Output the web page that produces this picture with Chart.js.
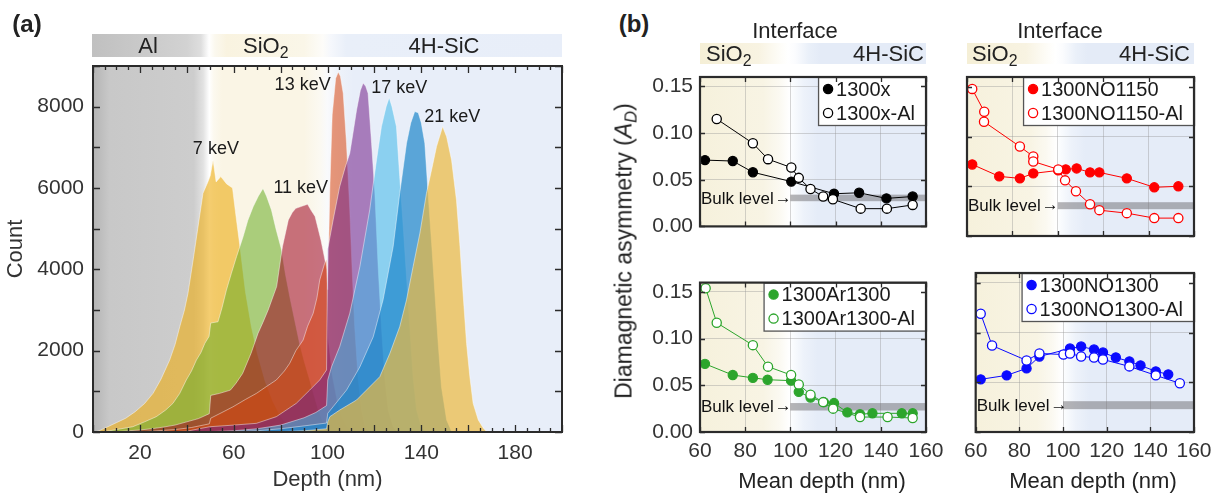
<!DOCTYPE html>
<html><head><meta charset="utf-8">
<script src="https://cdn.jsdelivr.net/npm/chart.js@4/dist/chart.umd.min.js"></script>
<style>
html,body{margin:0;padding:0;background:#fff;width:1225px;height:493px;overflow:hidden;}
#wrap{position:relative;width:1225px;height:493px;font-family:"Liberation Sans",Arial,Helvetica,sans-serif;color:#222;}
canvas{position:absolute;}
.t{position:absolute;white-space:nowrap;line-height:1;}
sub{font-size:0.72em;vertical-align:-0.32em;line-height:0;}
#frameA{position:absolute;box-sizing:border-box;border:2.5px solid #2b2b2b;pointer-events:none;z-index:5;}
</style></head><body><div id="wrap">
<canvas id="ca" width="600" height="493" style="left:0px;top:0px"></canvas>
<canvas id="caf" width="600" height="493" style="left:0px;top:0px;z-index:4"></canvas>
<div id="frameA" style="left:92px;top:65px;width:472px;height:369px"></div>
<canvas id="c1" width="313" height="206" style="left:638px;top:40px"></canvas>
<canvas id="c2" width="262" height="206" style="left:957px;top:40px"></canvas>
<canvas id="c3" width="313" height="230" style="left:638px;top:263px"></canvas>
<canvas id="c4" width="262" height="230" style="left:957px;top:263px"></canvas>
</div>
<script>
// ---------------- DATA: panel (a) implantation profiles ----------------
const energies = [7, 9, 11, 13, 15, 17, 19, 21];
const depth7  = [1,3,6,10,14,18,22,25.6,29,32.7,35,37,39,40.5,42.7,44.8,46.9,49,50,51.2,52.5,54.5,57,59.5,61,62.8,65,67.5,70,73.4,76.7,80,83.3,86.5,88];
const count7  = [0,40,120,230,340,500,700,950,1300,1770,2150,2590,3000,3410,4230,5050,5870,6150,6300,6690,6150,6280,6100,6000,5300,4500,3450,2600,1950,1250,750,380,130,20,0];
const depth9  = [4,10,17,22,27,31,34.1,37,39.8,42,44.1,46,47.7,49.5,50.2,53.3,55,56.9,59,61.2,64,66,68.3,70.5,72.5,74,76.1,78,80.4,82,84,86,88,90,92.4,94,96,98,100,102];
const count9  = [0,60,130,250,377,540,705,950,1280,1500,1770,1950,2180,2350,2680,2710,3050,3490,3900,4310,4800,5200,5540,5800,5990,5800,5460,5000,4480,3900,3300,2750,2200,1750,1280,950,550,250,80,0];
const depth11 = [8,15,20,25,30,35,40,45,49.6,50.2,54,58.6,61,63.8,67.4,70.4,72.5,74.7,78.3,80.8,83.3,85,86.5,89,91.5,93,94.7,96,97.2,98.5,99.7,100.3,102,104,106,108,110,112];
const count11 = [0,30,50,80,120,170,250,330,450,900,950,1030,1200,1440,1935,2430,2700,3000,3575,4560,5215,5400,5500,5550,5600,5450,5300,5000,4720,4350,4000,2300,1400,800,400,150,40,0];
const depth13 = [15,25,35,42,49.6,50.2,55,59.7,65,69.7,74,78.2,81.6,83.9,86.5,89.6,91.5,93.9,95.5,96.7,98.8,99.6,100.1,101,102,103.5,104.6,105.5,106.7,108.1,109.5,110.5,111.6,113,114.5,116,118];
const count13 = [0,20,60,110,200,340,480,620,800,950,1120,1280,1500,1690,2000,2260,2600,2920,3300,3740,4150,4250,3500,6000,7800,8700,8850,8750,8330,7100,5460,4000,2590,1360,540,130,0];
const depth15 = [30,40,49.8,55,60,69.7,78.2,86.7,92.4,96.7,99.6,100.1,102.4,105.2,107.5,109.5,111,112.4,114,115.2,116.3,117.3,118.8,120.2,121.6,123,124.4,125.9,128,130];
const count15 = [0,20,130,150,170,213,377,705,1030,1280,1525,4500,5215,6035,6500,6856,7400,7920,8400,8580,8500,8330,7100,5870,4066,2590,1360,540,130,0];
const depth17 = [45,50,60,70,80,90,95,99.6,100.1,101.7,105.2,109.5,113.8,118,120.9,123,125,126.3,127.5,129.4,130.8,132.3,133.7,135.1,136.5,138,140,142];
const count17 = [0,10,30,80,170,350,480,650,1280,1600,2100,2920,4066,5460,6690,7510,8000,8224,8000,7510,6280,5050,3820,2590,1360,540,130,0];
const depth19 = [50,60,70,80,90,99.6,100.1,102.4,108.1,113.8,119.5,123.7,128,130.8,133.7,135.5,137.2,138.7,140,141.5,142.9,144.4,145.8,147.2,148.6,150.8,153];
const count19 = [0,10,30,80,150,220,460,623,1030,1600,2340,3250,4560,5870,7100,7600,7880,7850,7600,7100,5870,4640,3410,2180,1110,295,0];
const depth21 = [70,80,90,99.6,100.1,101,105.2,112.4,116.6,122.3,126.6,130.8,133.7,136.5,139.4,142.2,144.4,146.5,149.1,150.8,152.9,155,156.4,157.8,159.3,160.7,162.1,164.3,166.4,168];
const count21 = [0,10,30,80,250,377,540,787,1030,1360,1935,2590,3250,4066,4890,5870,6450,7020,7510,7260,6690,5700,4640,3410,2180,1360,705,295,100,0];
const kevLabels = ['7 keV', '11 keV', '13 keV', '17 keV', '21 keV'];
const xTicksA = [20, 60, 100, 140, 180];
const yTicksA = [0, 2000, 4000, 6000, 8000];

// ---------------- DATA: panel (b) diamagnetic asymmetry ----------------
const depth1300x    = [62.2,74.5,83.4,100.4,119.3,130.4,142.5,154.1];
const ad1300x       = [0.071,0.070,0.058,0.048,0.035,0.036,0.030,0.032];
const depth1300xAl  = [67.4,83.4,90.1,100.4,103.7,108.9,114.5,118.8,131.1,142.7,154.1];
const ad1300xAl     = [0.115,0.089,0.072,0.063,0.052,0.040,0.032,0.029,0.019,0.019,0.023];
const depthNO1150   = [62.3,74.2,83.3,89.2,100.2,103.5,108.3,114.2,118.3,130.4,142.5,153.1];
const adNO1150      = [0.072,0.060,0.058,0.063,0.066,0.067,0.068,0.064,0.064,0.058,0.049,0.050];
const depthNO1150Al = [62.3,67.6,67.5,83.3,89.2,89.2,100.2,103.2,108,114.2,118.3,130.4,142.5,153.1];
const adNO1150Al    = [0.148,0.125,0.115,0.090,0.080,0.075,0.067,0.056,0.045,0.032,0.026,0.023,0.018,0.018];
const depthAr1300   = [62.2,74.5,83.4,89.9,100.3,103.7,108.9,114.8,119.3,125.2,130.8,136.3,149.3,154.1];
const adAr1300      = [0.073,0.061,0.058,0.056,0.055,0.043,0.037,0.032,0.031,0.021,0.019,0.020,0.020,0.020];
const depthAr1300Al = [62.5,67.4,83.4,90.1,100.3,103.7,108.9,114.5,118.9,130.8,143,154.1];
const adAr1300Al    = [0.154,0.117,0.093,0.070,0.061,0.051,0.040,0.032,0.025,0.016,0.016,0.015];
const depthNO1300   = [62.3,74.2,83.3,89.2,103.2,108.3,114.2,118.3,124.2,130.4,135.5,142.5,148.2];
const adNO1300      = [0.053,0.057,0.064,0.076,0.084,0.086,0.083,0.080,0.075,0.071,0.067,0.061,0.058];
const depthNO1300Al = [62.3,67.5,83.3,89.2,100.2,103.2,108.3,114.2,118.3,130.4,142.5,153.5];
const adNO1300Al    = [0.119,0.087,0.072,0.079,0.078,0.079,0.076,0.075,0.073,0.066,0.057,0.049];
const bulkLow  = [0.027, 0.027, 0.023, 0.023];
const bulkHigh = [0.034, 0.034, 0.031, 0.031];
const xTicksB = [60, 80, 100, 120, 140, 160];
const yTicksB = [0, 0.05, 0.10, 0.15];

// ---------------- helpers ----------------
const FONT = '"Liberation Sans", Arial, Helvetica, sans-serif';
Chart.defaults.font.family = FONT;
Chart.defaults.color = '#333';
const pts = (xs, ys) => xs.map((x, i) => ({x: x, y: ys[i]}));
const FRAME = '#2b2b2b';

function grad(ctx, sc, x0, x1, stops) {
  const g = ctx.createLinearGradient(x0, 0, x1, 0);
  stops.forEach(([v, c]) => {
    let p = (sc.getPixelForValue(v) - x0) / (x1 - x0);
    g.addColorStop(Math.max(0, Math.min(1, p)), c);
  });
  return g;
}

function drawTicks(ctx, chart, o) {
  const a = chart.chartArea, x = chart.scales.x, y = chart.scales.y;
  ctx.save();
  ctx.strokeStyle = FRAME;
  ctx.lineWidth = 1.3;
  const i0 = Math.round(x.min / o.xs), i1 = Math.round(x.max / o.xs);
  for (let i = i0; i <= i1; i++) {
    const major = o.xm ? (i % Math.round(o.xm / o.xs) === 0) : true;
    const L = major ? o.L : o.l;
    const px = Math.round(x.getPixelForValue(i * o.xs)) + 0.5;
    ctx.beginPath();
    ctx.moveTo(px, a.bottom); ctx.lineTo(px, a.bottom - L);
    ctx.moveTo(px, a.top); ctx.lineTo(px, a.top + L);
    ctx.stroke();
  }
  const j0 = Math.round(y.min / o.ys), j1 = Math.floor(y.max / o.ys + 1e-6);
  for (let j = j0; j <= j1; j++) {
    const py = Math.round(y.getPixelForValue(j * o.ys)) + 0.5;
    ctx.beginPath();
    ctx.moveTo(a.left, py); ctx.lineTo(a.left + o.L, py);
    ctx.moveTo(a.right, py); ctx.lineTo(a.right - o.L, py);
    ctx.stroke();
  }
  if (o.w) {
    ctx.lineWidth = o.w;
    ctx.strokeRect(a.left, a.top, a.right - a.left, a.bottom - a.top);
  }
  ctx.restore();
}

// ---------------- panel (a) ----------------
const stopsPlotA = [[0,'#b4b4b4'],[7,'#c8c8c8'],[43,'#cdcdcd'],[47,'#e2e2e2'],[49.6,'#ffffff'],[51.5,'#fcf9ef'],[55,'#faf5e5'],[90,'#faf5e5'],[97,'#fbf9f2'],[100,'#f9fafc'],[104,'#eff3fa'],[111,'#e8eef9'],[200,'#e8eef9']];
const stopsBandA = [[0,'#c0c0c0'],[40,'#d2d2d2'],[46,'#dedede'],[49.5,'#ffffff'],[52,'#fbf8ee'],[57,'#f9f3e0'],[90,'#faf6e8'],[98,'#fdfcf9'],[101,'#f6f8fc'],[108,'#e9eff9'],[200,'#e8eef9']];
const kevAnchor = [[52.4, 6950], [88.6, 6000], [89.4, 8540], [130.6, 8460], [153.2, 7750]];
const panelAPlugin = {
  id: 'panelA',
  beforeDraw(chart) {
    const ctx = chart.ctx, a = chart.chartArea, x = chart.scales.x;
    ctx.save();
    ctx.fillStyle = grad(ctx, x, a.left, a.right, stopsPlotA);
    ctx.fillRect(a.left, a.top, a.right - a.left, a.bottom - a.top);
    ctx.fillStyle = grad(ctx, x, a.left, a.right, stopsBandA);
    ctx.fillRect(a.left - 1, a.top - 32, a.right - a.left + 1, 23);
    ctx.restore();
  },
  afterDatasetsDraw(chart) {
    const ctx = chart.ctx, x = chart.scales.x, y = chart.scales.y;
    ctx.save();
    ctx.font = '18px ' + FONT;
    ctx.fillStyle = '#1a1a1a';
    ctx.textAlign = 'center'; ctx.textBaseline = 'middle';
    kevLabels.forEach((t, i) => ctx.fillText(t, x.getPixelForValue(kevAnchor[i][0]), y.getPixelForValue(kevAnchor[i][1])));
    ctx.restore();
  }
};
const fillColors = ['rgba(237,172,16,0.6)','rgba(103,171,37,0.55)','rgba(157,2,32,0.55)','rgba(217,69,15,0.55)',
                    'rgba(113,31,136,0.55)','rgba(62,184,233,0.55)','rgba(30,134,202,0.7)','rgba(237,185,63,0.7)'];
const depthsA = [depth7, depth9, depth11, depth13, depth15, depth17, depth19, depth21];
const countsA = [count7, count9, count11, count13, count15, count17, count19, count21];

const chartA = new Chart(document.getElementById('ca'), {
  type: 'line',
  data: { datasets: energies.map((e, i) => ({
    label: e + ' keV', data: pts(depthsA[i], countsA[i]), fill: 'origin',
    backgroundColor: fillColors[i], borderColor: 'rgba(255,255,255,0.45)', borderWidth: 1,
    pointRadius: 0, tension: 0, order: energies.length - 1 - i })) },
  options: {
    responsive: false, animation: false, devicePixelRatio: 1, events: [],
    layout: { padding: { top: 66, right: 38, left: 0, bottom: 0 } },
    plugins: { legend: { display: false }, tooltip: { enabled: false } },
    scales: {
      x: { type: 'linear', min: 0, max: 200,
        afterBuildTicks: s => { s.ticks = xTicksA.map(v => ({value: v})); },
        afterFit: s => { s.height = 61; },
        grid: { display: false, drawTicks: false }, border: { display: false },
        ticks: { font: { size: 21 }, color: '#333', padding: 9, autoSkip: false, maxRotation: 0, callback: v => String(v) },
        title: { display: true, text: 'Depth (nm)', font: { size: 22 }, color: '#333', padding: { top: 0, bottom: 0 } } },
      y: { min: 0, max: 9000,
        afterBuildTicks: s => { s.ticks = yTicksA.map(v => ({value: v})); },
        afterFit: s => { s.width = 93; },
        grid: { display: false, drawTicks: false }, border: { display: false },
        ticks: { font: { size: 21 }, color: '#333', padding: 9, callback: v => String(v) },
        title: { display: true, text: 'Count', font: { size: 22 }, color: '#333', padding: { top: 3, bottom: 0 } } }
    }
  },
  plugins: [panelAPlugin]
});
// frame (HTML border) and inward ticks (overlay canvas) for panel (a), placed from the chart's own scales
(function () {
  const a = chartA.chartArea;
  const f = document.getElementById('frameA');
  f.style.left = (a.left - 1.25) + 'px'; f.style.top = (a.top - 1.25) + 'px';
  f.style.width = (a.right - a.left + 2.5) + 'px'; f.style.height = (a.bottom - a.top + 2.5) + 'px';
  drawTicks(document.getElementById('caf').getContext('2d'), chartA, {xs: 5, xm: 20, ys: 1000, L: 7, l: 4, w: 0});
})();

// ---------------- panel (b) ----------------
const stopsPlotB = [[60,'#f6f1dc'],[88,'#f8f4e4'],[95,'#fbf9f1'],[99.5,'#ffffff'],[101,'#fafcfe'],[106,'#edf2fa'],[112,'#e5ecf8'],[160,'#e5ecf8']];
const stopsBandB = [[60,'#f5efd6'],[86,'#f8f3e2'],[96,'#fefdf9'],[99,'#ffffff'],[102,'#fbfcfe'],[108,'#eaf0f9'],[113,'#e4ebf7'],[160,'#e4ebf7']];

function panelBPlugin(c) { return {
  id: 'panelB',
  beforeDraw(chart) {
    const ctx = chart.ctx, a = chart.chartArea, x = chart.scales.x;
    ctx.save();
    ctx.fillStyle = grad(ctx, x, a.left, a.right, stopsPlotB);
    ctx.fillRect(a.left, a.top, a.right - a.left, a.bottom - a.top);
    if (c.band) {
      ctx.fillStyle = grad(ctx, x, a.left, a.right, stopsBandB);
      ctx.fillRect(a.left, a.top - 34, a.right - a.left, 21);
    }
    ctx.restore();
  },
  beforeDatasetsDraw(chart) {
    const ctx = chart.ctx, a = chart.chartArea, x = chart.scales.x, y = chart.scales.y;
    const x0 = x.getPixelForValue(100), yt = y.getPixelForValue(c.hi), yb = y.getPixelForValue(c.lo);
    ctx.save();
    ctx.fillStyle = 'rgba(110,108,112,0.5)';
    ctx.fillRect(x0, yt, a.right - x0, yb - yt);
    ctx.font = '17px ' + FONT; ctx.fillStyle = '#111';
    ctx.textAlign = 'left'; ctx.textBaseline = 'middle';
    const ym = (yt + yb) / 2;
    ctx.fillText('Bulk level', a.left + 1, ym + 1);
    const w = ctx.measureText('Bulk level').width;
    ctx.fillText('\u2192', a.left + 2 + w, ym);
    ctx.restore();
  },
  afterDraw(chart) {
    const ctx = chart.ctx, a = chart.chartArea;
    const ds = chart.data.datasets;
    ctx.save();
    ctx.font = '20px ' + FONT;
    const tw = Math.max(...ds.map(d => ctx.measureText(d.label).width));
    const w = tw + 29, h = 48, x0 = a.right - w, y0 = a.top;
    ctx.fillStyle = '#fff'; ctx.fillRect(x0, y0, w, h);
    ctx.strokeStyle = '#555'; ctx.lineWidth = 1.3; ctx.strokeRect(x0 + 0.5, y0 + 0.5, w, h);
    ds.forEach((d, i) => {
      const cy = y0 + 12 + i * 24;
      ctx.beginPath(); ctx.arc(x0 + 10, cy, 4.6, 0, Math.PI * 2);
      ctx.fillStyle = d.pointBackgroundColor; ctx.fill();
      ctx.lineWidth = 1.3; ctx.strokeStyle = d.pointBorderColor; ctx.stroke();
      ctx.fillStyle = '#1a1a1a'; ctx.textAlign = 'left'; ctx.textBaseline = 'middle';
      ctx.fillText(d.label, x0 + 18, cy + 1);
    });
    ctx.restore();
    drawTicks(ctx, chart, {xs: 20, ys: 0.05, L: 5, l: 5, w: 2.2});
  }
}; }

function makeB(id, c) {
  return new Chart(document.getElementById(id), {
    type: 'scatter',
    data: { datasets: [
      { label: c.labels[0], data: pts(c.x1, c.y1), showLine: true, borderColor: c.color, borderWidth: 1,
        pointRadius: 4.6, pointBackgroundColor: c.color, pointBorderColor: c.color, pointBorderWidth: 1.2, order: 1 },
      { label: c.labels[1], data: pts(c.x2, c.y2), showLine: true, borderColor: c.color, borderWidth: 1,
        pointRadius: 4.6, pointBackgroundColor: '#ffffff', pointBorderColor: c.color, pointBorderWidth: 1.3, order: 0 }
    ] },
    options: {
      responsive: false, animation: false, devicePixelRatio: 1, events: [],
      layout: { padding: { top: c.padT, right: 25, left: 0, bottom: 0 } },
      plugins: { legend: { display: false }, tooltip: { enabled: false } },
      scales: {
        x: { type: 'linear', min: 60, max: 160,
          afterBuildTicks: s => { s.ticks = xTicksB.map(v => ({value: v})); },
          afterFit: s => { s.height = c.xH; },
          grid: { color: 'rgba(150,150,150,0.4)', lineWidth: 1, drawTicks: false }, border: { display: false },
          ticks: { display: c.showX, font: { size: 21 }, color: '#333', padding: 7, autoSkip: false, maxRotation: 0, callback: v => String(v) } },
        y: { min: 0, max: 0.16,
          afterBuildTicks: s => { s.ticks = yTicksB.map(v => ({value: v})); },
          afterFit: s => { s.width = c.yW; },
          grid: { color: 'rgba(150,150,150,0.4)', lineWidth: 1, drawTicks: false }, border: { display: false },
          ticks: { display: c.showY, font: { size: 21 }, color: '#333', padding: 7, callback: v => v.toFixed(2) } }
      }
    },
    plugins: [panelBPlugin(c)]
  });
}

makeB('c1', { labels: ['1300x', '1300x-Al'], color: '#000000', x1: depth1300x, y1: ad1300x, x2: depth1300xAl, y2: ad1300xAl,
  padT: 37, xH: 10, yW: 62, showX: false, showY: true, band: true, lo: bulkLow[0], hi: bulkHigh[0] });
makeB('c2', { labels: ['1300NO1150', '1300NO1150-Al'], color: '#ff0000', x1: depthNO1150, y1: adNO1150, x2: depthNO1150Al, y2: adNO1150Al,
  padT: 37, xH: 10, yW: 10, showX: false, showY: false, band: true, lo: bulkLow[1], hi: bulkHigh[1] });
makeB('c3', { labels: ['1300Ar1300', '1300Ar1300-Al'], color: '#2ca52c', x1: depthAr1300, y1: adAr1300, x2: depthAr1300Al, y2: adAr1300Al,
  padT: 10, xH: 61, yW: 62, showX: true, showY: true, band: false, lo: bulkLow[2], hi: bulkHigh[2] });
makeB('c4', { labels: ['1300NO1300', '1300NO1300-Al'], color: '#0a0aff', x1: depthNO1300, y1: adNO1300, x2: depthNO1300Al, y2: adNO1300Al,
  padT: 10, xH: 61, yW: 10, showX: true, showY: false, band: false, lo: bulkLow[3], hi: bulkHigh[3] });

// ---------------- text overlays ----------------
const wrap = document.getElementById('wrap');
function txt(html, x, y, size, opt) {
  opt = opt || {};
  const d = document.createElement('div');
  d.className = 't';
  d.innerHTML = html;
  d.style.fontSize = size + 'px';
  if (opt.bold) d.style.fontWeight = 'bold';
  d.style.left = x + 'px'; d.style.top = y + 'px';
  const tx = opt.align === 'left' ? '0' : opt.align === 'right' ? '-100%' : '-50%';
  d.style.transform = opt.rot ? 'translate(-50%,-50%) rotate(-90deg)' : 'translate(' + tx + ',-50%)';
  wrap.appendChild(d);
}
txt('(a)', 27, 24, 24, {bold: true});
txt('(b)', 634, 24, 24, {bold: true});
txt('Al', 148, 46, 22);
txt('SiO<sub>2</sub>', 243, 46, 22, {align: 'left'});
txt('4H-SiC', 444, 46, 22);
txt('Interface', 795, 31, 22);
txt('Interface', 1060, 31, 22);
txt('SiO<sub>2</sub>', 706, 54, 22, {align: 'left'});
txt('4H-SiC', 924, 54, 22, {align: 'right'});
txt('SiO<sub>2</sub>', 972, 54, 22, {align: 'left'});
txt('4H-SiC', 1190, 54, 22, {align: 'right'});
txt('Mean depth (nm)', 822, 481, 22);
txt('Mean depth (nm)', 1093, 481, 22);
txt('Diamagnetic asymmetry (<i>A</i><sub><i>D</i></sub>)', 624, 251, 23, {rot: true});
</script>
</body></html>
